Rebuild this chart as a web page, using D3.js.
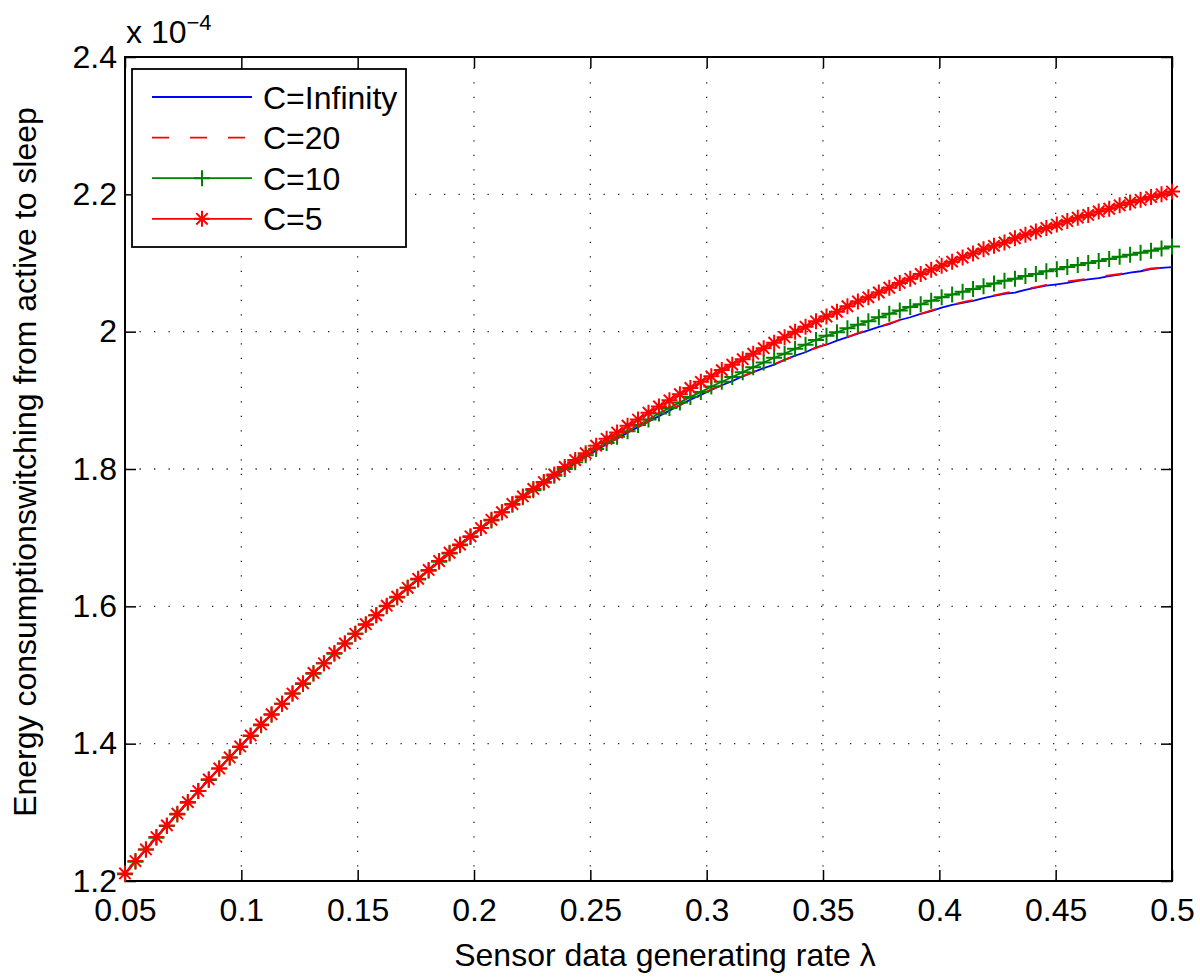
<!DOCTYPE html>
<html>
<head>
<meta charset="utf-8">
<script src="https://cdn.jsdelivr.net/npm/d3@7"></script>
<style>
body { margin: 0; background: #fff; }
#chart svg { display: block; font-family: "Liberation Sans", Arial, Helvetica, sans-serif; }
</style>
</head>
<body>
<div id="chart"></div>
<script>
// sensor data generating rate (x values)
const lambda = [0.05, 0.0545, 0.059, 0.0635, 0.068, 0.0725, 0.077, 0.0815, 0.086, 0.0905,
    0.095, 0.0995, 0.104, 0.1085, 0.113, 0.1175, 0.122, 0.1265, 0.131, 0.1355,
    0.14, 0.1445, 0.149, 0.1535, 0.158, 0.1625, 0.167, 0.1715, 0.176, 0.1805,
    0.185, 0.1895, 0.194, 0.1985, 0.203, 0.2075, 0.212, 0.2165, 0.221, 0.2255,
    0.23, 0.2345, 0.239, 0.2435, 0.248, 0.2525, 0.257, 0.2615, 0.266, 0.2705,
    0.275, 0.2795, 0.284, 0.2885, 0.293, 0.2975, 0.302, 0.3065, 0.311, 0.3155,
    0.32, 0.3245, 0.329, 0.3335, 0.338, 0.3425, 0.347, 0.3515, 0.356, 0.3605,
    0.365, 0.3695, 0.374, 0.3785, 0.383, 0.3875, 0.392, 0.3965, 0.401, 0.4055,
    0.41, 0.4145, 0.419, 0.4235, 0.428, 0.4325, 0.437, 0.4415, 0.446, 0.4505,
    0.455, 0.4595, 0.464, 0.4685, 0.473, 0.4775, 0.482, 0.4865, 0.491, 0.4955, 0.5];

// energy values, in units of 1e-4
const cInfinity = [1.211, 1.229, 1.246, 1.264, 1.281, 1.298, 1.315, 1.331, 1.348, 1.364,
    1.380, 1.396, 1.412, 1.428, 1.443, 1.458, 1.473, 1.488, 1.503, 1.517,
    1.531, 1.546, 1.560, 1.574, 1.587, 1.601, 1.614, 1.627, 1.640, 1.653,
    1.665, 1.678, 1.690, 1.702, 1.714, 1.725, 1.737, 1.748, 1.759, 1.769,
    1.779, 1.789, 1.799, 1.808, 1.818, 1.827, 1.836, 1.844, 1.853, 1.861,
    1.869, 1.877, 1.885, 1.893, 1.901, 1.908, 1.915, 1.922, 1.928, 1.935,
    1.941, 1.947, 1.952, 1.959, 1.965, 1.970, 1.977, 1.981, 1.987, 1.992,
    1.997, 2.002, 2.007, 2.011, 2.017, 2.021, 2.026, 2.030, 2.035, 2.039,
    2.042, 2.045, 2.049, 2.052, 2.055, 2.057, 2.061, 2.064, 2.067, 2.069,
    2.071, 2.074, 2.076, 2.078, 2.081, 2.083, 2.086, 2.088, 2.091, 2.093, 2.094];

const c20 = [1.211, 1.229, 1.246, 1.264, 1.281, 1.298, 1.315, 1.331, 1.348, 1.364,
    1.380, 1.396, 1.412, 1.428, 1.443, 1.458, 1.473, 1.488, 1.503, 1.517,
    1.531, 1.546, 1.560, 1.574, 1.587, 1.601, 1.614, 1.627, 1.640, 1.653,
    1.665, 1.678, 1.690, 1.702, 1.714, 1.725, 1.737, 1.748, 1.759, 1.769,
    1.780, 1.790, 1.799, 1.809, 1.818, 1.828, 1.836, 1.845, 1.853, 1.861,
    1.870, 1.878, 1.886, 1.893, 1.901, 1.909, 1.916, 1.922, 1.929, 1.935,
    1.941, 1.948, 1.953, 1.959, 1.965, 1.971, 1.976, 1.982, 1.987, 1.992,
    1.998, 2.003, 2.007, 2.012, 2.017, 2.022, 2.026, 2.031, 2.035, 2.039,
    2.043, 2.046, 2.050, 2.053, 2.056, 2.059, 2.062, 2.065, 2.068, 2.070,
    2.073, 2.075, 2.077, 2.080, 2.082, 2.084, 2.087, 2.089, 2.092, 2.093, 2.095];

const c10 = [1.210, 1.228, 1.246, 1.263, 1.280, 1.297, 1.314, 1.331, 1.347, 1.364,
    1.380, 1.395, 1.411, 1.427, 1.442, 1.458, 1.473, 1.487, 1.502, 1.517,
    1.531, 1.546, 1.560, 1.573, 1.587, 1.600, 1.613, 1.627, 1.639, 1.652,
    1.665, 1.677, 1.689, 1.701, 1.714, 1.725, 1.737, 1.748, 1.759, 1.769,
    1.780, 1.790, 1.800, 1.810, 1.820, 1.829, 1.838, 1.847, 1.855, 1.864,
    1.872, 1.881, 1.889, 1.897, 1.905, 1.912, 1.920, 1.927, 1.934, 1.941,
    1.948, 1.955, 1.962, 1.968, 1.975, 1.981, 1.988, 1.994, 1.999, 2.005,
    2.010, 2.015, 2.021, 2.026, 2.031, 2.036, 2.040, 2.045, 2.050, 2.054,
    2.058, 2.062, 2.066, 2.070, 2.074, 2.077, 2.081, 2.084, 2.088, 2.091,
    2.094, 2.097, 2.100, 2.103, 2.106, 2.109, 2.112, 2.115, 2.118, 2.121, 2.124];

const c5 = [1.211, 1.229, 1.246, 1.264, 1.281, 1.298, 1.315, 1.331, 1.348, 1.364,
    1.380, 1.396, 1.412, 1.428, 1.443, 1.458, 1.473, 1.488, 1.503, 1.517,
    1.532, 1.546, 1.560, 1.574, 1.587, 1.601, 1.614, 1.627, 1.640, 1.653,
    1.666, 1.678, 1.690, 1.702, 1.714, 1.726, 1.737, 1.749, 1.760, 1.771,
    1.781, 1.792, 1.803, 1.813, 1.823, 1.834, 1.844, 1.853, 1.863, 1.872,
    1.882, 1.891, 1.900, 1.909, 1.918, 1.927, 1.935, 1.944, 1.952, 1.960,
    1.968, 1.976, 1.984, 1.992, 2.000, 2.007, 2.015, 2.022, 2.029, 2.037,
    2.044, 2.050, 2.057, 2.064, 2.071, 2.077, 2.084, 2.090, 2.096, 2.102,
    2.108, 2.114, 2.120, 2.125, 2.130, 2.136, 2.141, 2.146, 2.151, 2.156,
    2.161, 2.166, 2.170, 2.175, 2.179, 2.184, 2.188, 2.192, 2.196, 2.200, 2.204];

const xTicks = [0.05, 0.1, 0.15, 0.2, 0.25, 0.3, 0.35, 0.4, 0.45, 0.5];
const yTicks = [1.2, 1.4, 1.6, 1.8, 2, 2.2, 2.4];
const seriesNames = ["C=Infinity", "C=20", "C=10", "C=5"];

function markerPath(type) {
    if (type === "plus") return "M-8,0H8M0,-8V8";
    if (type === "star") return "M-8,0H8M0,-8V8M-5.7,-5.7L5.7,5.7M-5.7,5.7L5.7,-5.7";
    return null;
}

function createChart() {
    const svgWidth = 1200;
    const svgHeight = 980;
    const margin = { top: 57, right: 28, bottom: 99, left: 125 };
    const width = svgWidth - margin.left - margin.right;
    const height = svgHeight - margin.top - margin.bottom;
    const fontSize = "32px";

    const series = [
        { name: seriesNames[0], values: cInfinity, color: "#0000ff", dash: null, marker: null },
        { name: seriesNames[1], values: c20, color: "#ff0000", dash: "17,21", marker: null },
        { name: seriesNames[2], values: c10, color: "#008000", dash: null, marker: "plus" },
        { name: seriesNames[3], values: c5, color: "#ff0000", dash: null, marker: "star" }
    ];

    const svg = d3.select("#chart").append("svg")
        .attr("width", svgWidth)
        .attr("height", svgHeight);

    const chart = svg.append("g")
        .attr("transform", `translate(${margin.left}, ${margin.top})`);

    // scales
    const xScale = d3.scaleLinear().domain([0.05, 0.5]).range([0, width]);
    const yScale = d3.scaleLinear().domain([1.2, 2.4]).range([height, 0]);

    // dotted grid
    const grid = chart.append("g")
        .attr("stroke", "#222")
        .attr("stroke-width", 1.3)
        .attr("stroke-dasharray", "1.3,13.2");

    grid.selectAll(".vgrid")
        .data(xTicks.slice(1, -1))
        .enter().append("line")
        .attr("x1", d => xScale(d)).attr("x2", d => xScale(d))
        .attr("y1", height).attr("y2", 0);

    grid.selectAll(".hgrid")
        .data(yTicks.slice(1, -1))
        .enter().append("line")
        .attr("y1", d => yScale(d)).attr("y2", d => yScale(d))
        .attr("x1", 0).attr("x2", width);

    // axes, ticks pointing inward on all four sides
    const fmt = d => String(+d.toFixed(2));

    chart.append("g")
        .attr("transform", `translate(0, ${height})`)
        .call(d3.axisBottom(xScale).tickValues(xTicks).tickFormat(fmt)
            .tickSizeInner(-11).tickSizeOuter(0).tickPadding(17));

    chart.append("g")
        .call(d3.axisLeft(yScale).tickValues(yTicks).tickFormat(fmt)
            .tickSizeInner(-11).tickSizeOuter(0).tickPadding(8));

    chart.append("g")
        .call(d3.axisTop(xScale).tickValues(xTicks).tickFormat("")
            .tickSizeInner(-11).tickSizeOuter(0));

    chart.append("g")
        .attr("transform", `translate(${width}, 0)`)
        .call(d3.axisRight(yScale).tickValues(yTicks).tickFormat("")
            .tickSizeInner(-11).tickSizeOuter(0));

    chart.selectAll(".domain").remove();
    chart.selectAll(".tick line").attr("stroke", "#000").attr("stroke-width", 1.5);
    chart.selectAll(".tick text")
        .attr("fill", "#000")
        .style("font-size", fontSize)
        .style("font-family", "'Liberation Sans', Arial, sans-serif");

    chart.append("rect")
        .attr("width", width)
        .attr("height", height)
        .attr("fill", "none")
        .attr("stroke", "#000")
        .attr("stroke-width", 2);

    // curves
    const line = d3.line()
        .x((d, i) => xScale(lambda[i]))
        .y(d => yScale(d));

    series.forEach(s => {
        chart.append("path")
            .datum(s.values)
            .attr("fill", "none")
            .attr("stroke", s.color)
            .attr("stroke-width", 1.8)
            .attr("stroke-dasharray", s.dash)
            .attr("d", line);

        if (s.marker) {
            chart.append("g")
                .selectAll("path")
                .data(s.values)
                .enter().append("path")
                .attr("transform", (d, i) => `translate(${xScale(lambda[i])}, ${yScale(d)})`)
                .attr("d", markerPath(s.marker))
                .attr("fill", "none")
                .attr("stroke", s.color)
                .attr("stroke-width", 2);
        }
    });

    // legend
    const legend = svg.append("g").attr("transform", "translate(132, 69)");
    legend.append("rect")
        .attr("width", 274)
        .attr("height", 178)
        .attr("fill", "#fff")
        .attr("stroke", "#000")
        .attr("stroke-width", 1.8);

    const rows = legend.selectAll(".entry")
        .data(series)
        .enter().append("g")
        .attr("transform", (d, i) => `translate(0, ${28 + i * 40.6})`);

    rows.append("line")
        .attr("x1", 20).attr("x2", 120)
        .attr("stroke", d => d.color)
        .attr("stroke-width", 1.8)
        .attr("stroke-dasharray", d => d.dash);

    rows.filter(d => d.marker)
        .append("path")
        .attr("transform", "translate(70, 0)")
        .attr("d", d => markerPath(d.marker))
        .attr("fill", "none")
        .attr("stroke", d => d.color)
        .attr("stroke-width", 2);

    rows.append("text")
        .attr("x", 131)
        .attr("dy", "0.36em")
        .style("font-size", fontSize)
        .text(d => d.name);

    // exponent label
    const expo = svg.append("text")
        .attr("x", 126)
        .attr("y", 43)
        .style("font-size", fontSize);
    expo.append("tspan").text("x 10");
    expo.append("tspan")
        .attr("dy", -13)
        .style("font-size", "22px")
        .text("\u22124");

    // axis titles
    svg.append("text")
        .attr("x", 665)
        .attr("y", 966)
        .attr("text-anchor", "middle")
        .style("font-size", fontSize)
        .text("Sensor data generating rate \u03bb");

    svg.append("text")
        .attr("transform", "translate(36, 462) rotate(-90)")
        .attr("text-anchor", "middle")
        .style("font-size", fontSize)
        .text("Energy consumptionswitching from active to sleep");
}

createChart();
</script>
</body>
</html>
